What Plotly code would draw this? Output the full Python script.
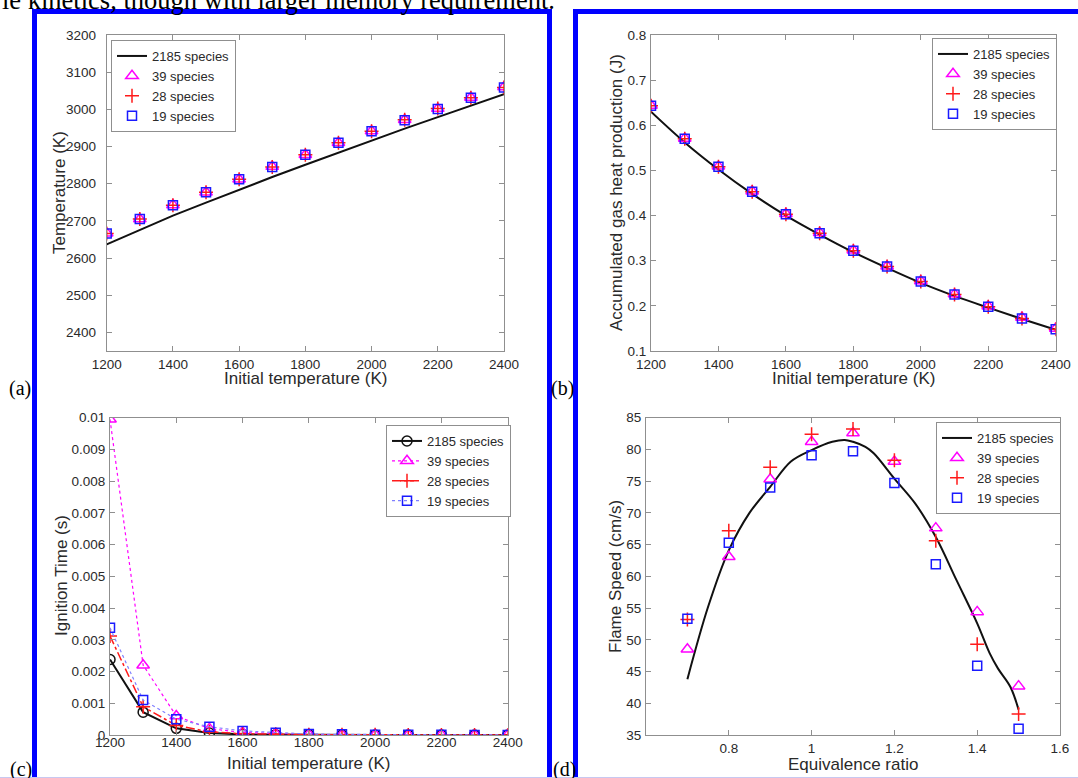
import plotly.graph_objects as go

# ---------------- data ----------------
T_init = [1200, 1300, 1400, 1500, 1600, 1700, 1800, 1900, 2000, 2100, 2200, 2300, 2400]

# (a) final temperature (K)
temp_2185 = [2637, 2676, 2714, 2749, 2784, 2818, 2851, 2884, 2916, 2948, 2979, 3010, 3041]
temp_39 = [2667, 2705, 2743, 2777, 2812, 2846, 2878, 2910, 2942, 2972, 3002, 3032, 3060]
temp_28 = [2666, 2705, 2742, 2777, 2812, 2845, 2878, 2910, 2941, 2972, 3002, 3031, 3059]
temp_19 = [2666, 2705, 2742, 2777, 2812, 2845, 2878, 2910, 2941, 2971, 3001, 3031, 3059]

# (b) accumulated gas heat production (J)
heat_2185 = [0.630, 0.562, 0.502, 0.448, 0.400, 0.358, 0.319, 0.284, 0.251, 0.222, 0.196, 0.171, 0.147]
heat_39 = [0.644, 0.571, 0.509, 0.454, 0.404, 0.362, 0.323, 0.288, 0.255, 0.226, 0.199, 0.174, 0.150]
heat_28 = [0.643, 0.570, 0.508, 0.453, 0.403, 0.361, 0.322, 0.287, 0.254, 0.225, 0.198, 0.172, 0.148]
heat_19 = [0.643, 0.570, 0.508, 0.453, 0.403, 0.361, 0.322, 0.287, 0.254, 0.225, 0.198, 0.172, 0.148]

# (c) ignition time (s)
ign_2185 = [0.00238, 0.00072, 0.00021, 0.00006, 0.00002, 0.00001, 0.000005, 0.000003, 0.000002, 0.000001, 0.000001, 0.000001, 0.000001]
ign_39 = [0.00995, 0.00220, 0.00060, 0.00020, 0.00008, 0.00004, 0.00002, 0.00001, 0.000006, 0.000004, 0.000003, 0.000002, 0.000001]
ign_28 = [0.00312, 0.00089, 0.00030, 0.00010, 0.00004, 0.00002, 0.00001, 0.000006, 0.000004, 0.000003, 0.000002, 0.000001, 0.000001]
ign_19 = [0.00338, 0.00110, 0.00050, 0.00026, 0.00013, 0.00007, 0.00003, 0.00002, 0.00001, 0.000006, 0.000004, 0.000003, 0.000002]

# (d) flame speed (cm/s)
phi_line = [0.70, 0.75, 0.80, 0.85, 0.90, 0.95, 1.00, 1.05, 1.08, 1.10, 1.13, 1.15, 1.20, 1.25, 1.30,
            1.35, 1.40, 1.43, 1.45, 1.48, 1.50]
speed_2185 = [43.8, 55.2, 64.1, 70.0, 74.1, 78.1, 79.9, 81.2, 81.5, 81.2, 80.4, 79.4, 75.4, 71.5, 66.2,
              59.4, 52.6, 47.9, 45.5, 42.6, 39.0]
phi_pts = [0.7, 0.8, 0.9, 1.0, 1.1, 1.2, 1.3, 1.4, 1.5]
speed_39 = [48.5, 63.1, 75.3, 81.2, 82.6, 78.1, 67.6, 54.4, 42.7]
speed_28 = [53.2, 67.2, 77.2, 82.4, 83.2, 78.3, 65.6, 49.3, 38.3]
speed_19 = [53.3, 65.3, 74.0, 79.1, 79.7, 74.7, 61.9, 45.9, 36.0]

names = ["2185 species", "39 species", "28 species", "19 species"]

x_ticks_T = [1200, 1400, 1600, 1800, 2000, 2200, 2400]
a_yticks = [2400, 2500, 2600, 2700, 2800, 2900, 3000, 3100, 3200]
b_yticks = [0.1, 0.2, 0.3, 0.4, 0.5, 0.6, 0.7, 0.8]
b_yticktext = ["0.1", "0.2", "0.3", "0.4", "0.5", "0.6", "0.7", "0.8"]
c_yticks = [0, 0.001, 0.002, 0.003, 0.004, 0.005, 0.006, 0.007, 0.008, 0.009, 0.01]
c_yticktext = ["0", "0.001", "0.002", "0.003", "0.004", "0.005", "0.006", "0.007", "0.008", "0.009", "0.01"]
d_xticks = [0.8, 1.0, 1.2, 1.4, 1.6]
d_xticktext = ["0.8", "1", "1.2", "1.4", "1.6"]
d_yticks = [35, 40, 45, 50, 55, 60, 65, 70, 75, 80, 85]

# ---------------- style ----------------
W, H = 1078, 778
FONT = "Liberation Sans, Arial, sans-serif"
SERIF = "Liberation Serif, Times New Roman, serif"
TXT = "#2a2a2a"
AXC = "#8f8f8f"
MAG = "#ff00ff"
RED = "#ff1a1a"
BLU = "#1a1aff"


def px_x(p):
    return p / W


def px_y(p):
    return 1 - p / H


fig = go.Figure()


def line_trace(x, y, name, ax, leg, color="#111111", dash="solid", width=2, marker=None,
               mode="lines", shape="linear"):
    fig.add_trace(go.Scatter(
        x=x, y=y, name=name, mode=mode, xaxis="x" + ax, yaxis="y" + ax, legend=leg,
        line=dict(color=color, width=width, dash=dash, shape=shape),
        marker=marker if marker else {}, showlegend=True))


def mk(symbol, color, size):
    return dict(symbol=symbol, size=size, color=color, line=dict(color=color, width=1.5))


def marker_trace(x, y, name, ax, leg, symbol, color, size):
    fig.add_trace(go.Scatter(
        x=x, y=y, name=name, mode="markers", xaxis="x" + ax, yaxis="y" + ax, legend=leg,
        marker=mk(symbol, color, size)))


# (a)
line_trace(T_init, temp_2185, names[0], "", "legend")
marker_trace(T_init, temp_39, names[1], "", "legend", "triangle-up-open", MAG, 11)
marker_trace(T_init, temp_28, names[2], "", "legend", "cross-thin-open", RED, 10)
marker_trace(T_init, temp_19, names[3], "", "legend", "square-open", BLU, 9)
# (b)
line_trace(T_init, heat_2185, names[0], "2", "legend2", shape="spline")
marker_trace(T_init, heat_39, names[1], "2", "legend2", "triangle-up-open", MAG, 11)
marker_trace(T_init, heat_28, names[2], "2", "legend2", "cross-thin-open", RED, 10)
marker_trace(T_init, heat_19, names[3], "2", "legend2", "square-open", BLU, 9)
# (c)
line_trace(T_init, ign_2185, names[0], "3", "legend3", color="#111111", width=2,
           marker=mk("circle-open", "#111111", 10), mode="lines+markers")
line_trace(T_init, ign_39, names[1], "3", "legend3", color=MAG, dash="dot", width=1.2,
           marker=mk("triangle-up-open", MAG, 11), mode="lines+markers")
line_trace(T_init, ign_28, names[2], "3", "legend3", color=RED, dash="dashdot", width=1.5,
           marker=mk("cross-thin-open", RED, 10), mode="lines+markers")
line_trace(T_init, ign_19, names[3], "3", "legend3", color="#7f7fff", dash="dot", width=1.2,
           marker=mk("square-open", BLU, 9), mode="lines+markers")
# (d)
line_trace(phi_line, speed_2185, names[0], "4", "legend4", shape="spline")
marker_trace(phi_pts, speed_39, names[1], "4", "legend4", "triangle-up-open", MAG, 11)
marker_trace(phi_pts, speed_28, names[2], "4", "legend4", "cross-thin-open", RED, 10)
marker_trace(phi_pts, speed_19, names[3], "4", "legend4", "square-open", BLU, 9)


def axis(domain, rng, tickvals, ticktext=None, anchor=None, standoff=0):
    d = dict(domain=domain, range=rng, tickvals=tickvals, showgrid=False, zeroline=False,
             showline=True, linecolor=AXC, linewidth=1, mirror="allticks", ticks="inside",
             ticklen=5, tickcolor=AXC, tickwidth=1, tickfont=dict(family=FONT, size=13.5, color=TXT),
             anchor=anchor, ticklabelstandoff=standoff, automargin=False)
    if ticktext is not None:
        d["ticktext"] = ticktext
    return d


# panel pixel boxes
A = (106.7, 504.0, 35.0, 351.0)
B = (651.0, 1055.7, 35.0, 351.0)
C = (110.0, 507.7, 417.7, 735.0)
D = (646.0, 1060.0, 417.7, 735.0)


def dx(b):
    return [px_x(b[0]), px_x(b[1])]


def dy(b):
    return [px_y(b[3]), px_y(b[2])]


legend_common = dict(bgcolor="white", bordercolor=AXC, borderwidth=1,
                     font=dict(family=FONT, size=13, color=TXT), xanchor="left", yanchor="top",
                     itemwidth=30, tracegroupgap=0)

fig.update_layout(
    width=W, height=H, margin=dict(l=0, r=0, t=0, b=0),
    paper_bgcolor="white", plot_bgcolor="white",
    xaxis=axis(dx(A), [1200, 2400], x_ticks_T, anchor="y", standoff=1),
    yaxis=axis(dy(A), [2350, 3200], a_yticks, anchor="x", standoff=7),
    xaxis2=axis(dx(B), [1200, 2400], x_ticks_T, anchor="y2", standoff=1),
    yaxis2=axis(dy(B), [0.1, 0.8], b_yticks, b_yticktext, anchor="x2", standoff=1),
    xaxis3=axis(dx(C), [1200, 2400], x_ticks_T, anchor="y3", standoff=-5),
    yaxis3=axis(dy(C), [0, 0.01], c_yticks, c_yticktext, anchor="x3", standoff=1),
    xaxis4=axis(dx(D), [0.6, 1.6], d_xticks, d_xticktext, anchor="y4", standoff=1),
    yaxis4=axis(dy(D), [35, 85], d_yticks, anchor="x4", standoff=1),
    legend=dict(legend_common, x=px_x(111), y=px_y(40)),
    legend2=dict(legend_common, x=px_x(932), y=px_y(38)),
    legend3=dict(legend_common, x=px_x(386), y=px_y(425)),
    legend4=dict(legend_common, x=px_x(936), y=px_y(422)),
)


# axis titles
def title(text, xp, yp, rot=0):
    fig.add_annotation(text=text, x=px_x(xp), y=px_y(yp), xref="paper", yref="paper",
                       showarrow=False, textangle=rot, xanchor="center", yanchor="middle",
                       font=dict(family=FONT, size=17, color=TXT))


title("Initial temperature (K)", 305, 378)
title("Temperature (K)", 60, 193, -90)
title("Initial temperature (K)", 853, 378)
title("Accumulated gas heat production (J)", 617, 193, -90)
title("Initial temperature (K)", 308, 763)
title("Ignition Time (s)", 61, 576, -90)
title("Equivalence ratio", 853, 764)
title("Flame Speed (cm/s)", 615, 577, -90)

# panel labels
for lab, xp, yp in [("(a)", 20, 388), ("(b)", 562, 388), ("(c)", 21, 769), ("(d)", 564, 769)]:
    fig.add_annotation(text=lab, x=px_x(xp), y=px_y(yp), xref="paper", yref="paper",
                       showarrow=False, xanchor="center", yanchor="middle",
                       font=dict(family=SERIF, size=20, color="black"))

# clipped sentence above the figure
fig.add_annotation(text="le kinetics, though with larger memory requirement.", x=px_x(1), y=px_y(16),
                   xref="paper", yref="paper", showarrow=False, xanchor="left", yanchor="bottom",
                   font=dict(family=SERIF, size=26.5, color="black"), borderpad=0)

# blue frames
for x0, x1 in [(34.5, 549.5), (575.5, 1090)]:
    fig.add_shape(type="rect", xref="paper", yref="paper", x0=px_x(x0), x1=px_x(x1),
                  y0=px_y(800), y1=px_y(11.5), line=dict(color="#0000ff", width=5),
                  fillcolor="rgba(0,0,0,0)", layer="above")
fig.add_shape(type="line", xref="paper", yref="paper", x0=0, x1=1, y0=px_y(777.5), y1=px_y(777.5),
              line=dict(color="#c8c8f0", width=1), layer="above")

fig.write_html("out.html")
